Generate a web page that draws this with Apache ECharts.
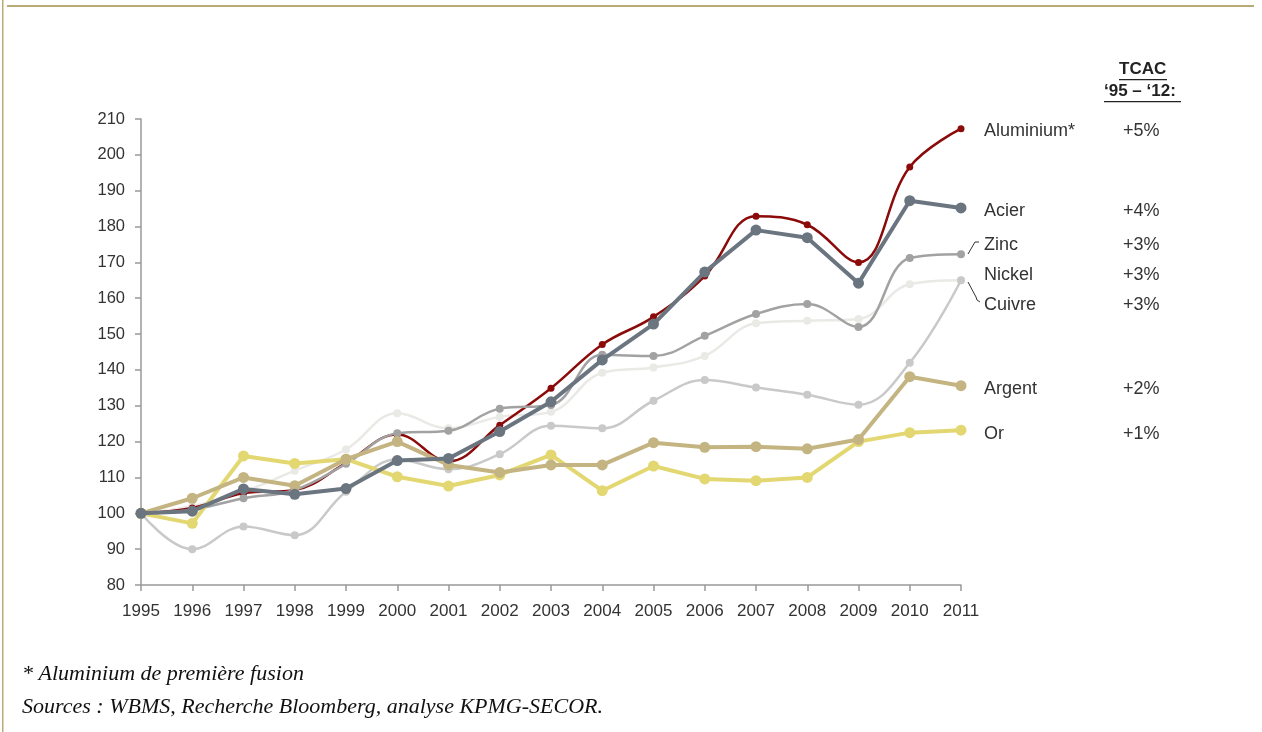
<!DOCTYPE html>
<html>
<head>
<meta charset="utf-8">
<script src="https://cdn.jsdelivr.net/npm/echarts@6/dist/echarts.min.js"></script>
<style>
html,body{margin:0;padding:0;background:#fff;}
#chart{width:1262px;height:732px;}
</style>
</head>
<body>
<div id="chart"></div>
<script>
const years = ['1995','1996','1997','1998','1999','2000','2001','2002','2003','2004','2005','2006','2007','2008','2009','2010','2011'];
const yTicks = [80, 210, 10];
const aluminium = [100,101.5,105.6,106.5,114,122,114.5,124.6,134.9,147.1,154.8,166.2,182.9,180.5,170.0,196.6,207.3];
const acier     = [100,100.6,106.8,105.3,106.9,114.7,115.3,122.8,131.1,142.8,152.8,167.3,179.0,176.9,164.2,187.2,185.2];
const zinc      = [100,101,104.2,106.5,113.8,122.3,123.0,129.2,130.2,144.2,143.9,149.5,155.6,158.4,152.0,171.2,172.3];
const nickel    = [100,102,106,111.9,117.8,127.9,123.7,126.9,128.3,139.2,140.7,143.9,153.0,153.7,154.2,163.9,165.0];
const cuivre    = [100,90.0,96.3,93.9,106.0,115,112.3,116.5,124.4,123.7,131.4,137.2,135.1,133.1,130.3,142.0,165.0];
const argent    = [100,104.2,110.0,107.7,115.1,120.0,113.5,111.4,113.5,113.5,119.7,118.4,118.6,118.0,120.6,138.1,135.6];
const or        = [100,97.2,116.0,113.9,115.1,110.2,107.6,110.7,116.3,106.3,113.2,109.6,109.1,110.0,120.0,122.5,123.2];
const names = ['Aluminium*','Acier','Zinc','Nickel','Cuivre','Argent','Or'];
const tcac  = ['+5%','+4%','+3%','+3%','+3%','+2%','+1%'];

const labelY = [130, 210, 244, 274, 304, 388, 433];
const FONT = '"Liberation Sans", Arial, sans-serif';
const SERIF = '"Liberation Serif", "DejaVu Serif", serif';

const chart = echarts.init(document.getElementById('chart'), null, {renderer:'canvas'});

function ser(name, data, color, width, sym, smooth, z){
  return {
    name, type:'line', data, smooth: smooth ? 0.4 : false,
    symbol:'circle', symbolSize: sym, z,
    lineStyle:{color, width}, itemStyle:{color},
    emphasis:{disabled:true}, animation:false
  };
}

const graphics = [
  {type:'rect', shape:{x:7, y:5, width:1247, height:2}, style:{fill:'#b9ab77'}},
  {type:'rect', shape:{x:2, y:0, width:1.5, height:732}, style:{fill:'#b9ab77'}},
  {type:'text', left:1119, top:61, style:{text:'TCAC', font:'bold 17px '+FONT, fill:'#222'}},
  {type:'rect', shape:{x:1119, y:79, width:48, height:1.3}, style:{fill:'#222'}},
  {type:'text', left:1104, top:83, style:{text:'‘95 – ‘12:', font:'bold 17px '+FONT, fill:'#222'}},
  {type:'rect', shape:{x:1104, y:101, width:77, height:1.3}, style:{fill:'#222'}},
  {type:'polyline', shape:{points:[[968,254],[975,242],[979,242]]}, style:{stroke:'#333', lineWidth:1, fill:null}},
  {type:'polyline', shape:{points:[[968,282],[976,297],[977,300],[980,302]]}, style:{stroke:'#333', lineWidth:1, fill:null}},
  {type:'text', left:22, top:663, style:{text:'* Aluminium de première fusion', font:'italic 22px '+SERIF, fill:'#111'}},
  {type:'text', left:22, top:696, style:{text:'Sources : WBMS, Recherche Bloomberg, analyse KPMG-SECOR.', font:'italic 22px '+SERIF, fill:'#111'}}
];
names.forEach((n,i)=>{
  graphics.push({type:'text', left:984, top:labelY[i]-8, style:{text:n, font:'18px '+FONT, fill:'#333'}});
  graphics.push({type:'text', left:1123, top:labelY[i]-8, style:{text:tcac[i], font:'18px '+FONT, fill:'#333'}});
});

chart.setOption({
  backgroundColor:'#fff',
  animation:false,
  grid:{left:141, right:301, top:119, bottom:147, containLabel:false},
  xAxis:{
    type:'category', data:years, boundaryGap:false,
    axisLine:{lineStyle:{color:'#999', width:1.5}},
    axisTick:{show:true, alignWithLabel:true, length:6, lineStyle:{color:'#999', width:1.5}},
    axisLabel:{color:'#333', fontSize:17, fontFamily:FONT, margin:18},
    splitLine:{show:false}
  },
  yAxis:{
    type:'value', min:yTicks[0], max:yTicks[1], interval:yTicks[2],
    axisLine:{show:true, lineStyle:{color:'#999', width:1.5}},
    axisTick:{show:true, length:6, lineStyle:{color:'#999', width:1.5}},
    axisLabel:{color:'#333', fontSize:16.5, fontFamily:FONT, margin:16},
    splitLine:{show:false}
  },
  graphic: graphics,
  series:[
    ser('Nickel', nickel, '#e9e9e5', 2.5, 8, true, 2),
    ser('Cuivre', cuivre, '#c9c9c9', 2.5, 8, true, 3),
    ser('Aluminium*', aluminium, '#8b0a0a', 2.5, 7, true, 4),
    ser('Zinc', zinc, '#a2a2a2', 2.5, 8, true, 5),
    ser('Or', or, '#e3d771', 4, 11, false, 6),
    ser('Argent', argent, '#c4b482', 4, 11, false, 7),
    ser('Acier', acier, '#6a7580', 4, 11, false, 8)
  ]
});
</script>
</body>
</html>
